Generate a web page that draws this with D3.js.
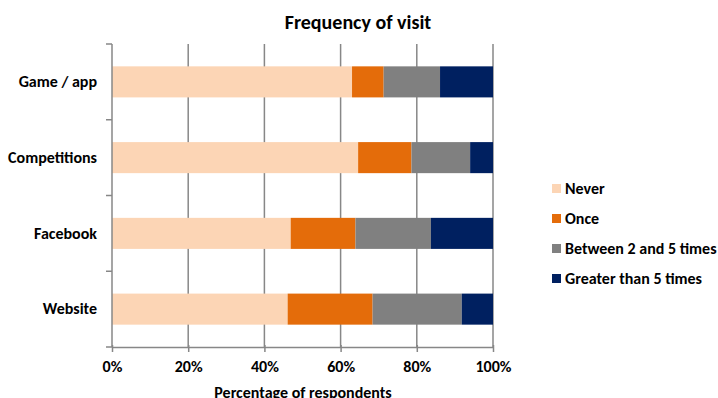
<!DOCTYPE html>
<html>
<head>
<meta charset="utf-8">
<script src="https://cdn.jsdelivr.net/npm/d3@7"></script>
<style>
  body { margin: 0; background: #fff; }
  text { font-family: Carlito, "Open Sans", "Noto Sans", sans-serif; font-weight: bold; fill: #000; }
</style>
</head>
<body>
<div id="D3"></div>
<script>
// categories, top to bottom
var categories = ["Game / app", "Competitions", "Facebook", "Website"];
var seriesNames = ["Never", "Once", "Between 2 and 5 times", "Greater than 5 times"];
var seriesColors = ["#FCD5B5", "#E46C0A", "#808080", "#002060"];
// percentage values per series, same order as categories
var never = [63.0, 64.6, 46.9, 46.1];
var once = [8.3, 14.0, 17.0, 22.3];
var between2and5 = [14.8, 15.4, 19.8, 23.4];
var greaterThan5 = [13.9, 6.0, 16.3, 8.2];
var tickValues = [0, 20, 40, 60, 80, 100];

function barChart() {
var w = 718, h = 398;
var plotLeft = 112, plotRight = 493, plotTop = 44, plotBottom = 347;
var labelSize = "16px";

var SVG = d3.select("#D3").append("svg")
	.attr("width", w)
	.attr("height", h);

var x = d3.scaleLinear().domain([0, 100]).range([plotLeft, plotRight]);
var y = d3.scaleBand().domain(categories).range([plotTop, plotBottom]).paddingInner(0.59).paddingOuter(0.295);

// gridlines
SVG.selectAll("line.grid")
	.data(tickValues.slice(1))
	.enter()
	.append("line")
	.attr("x1", function (d) { return x(d); })
	.attr("x2", function (d) { return x(d); })
	.attr("y1", plotTop)
	.attr("y2", plotBottom)
	.attr("stroke", "#878787")
	.attr("stroke-width", 1.5);

// stacked rows
var table = categories.map(function (c, i) {
	return { cat: c, Never: never[i], Once: once[i], "Between 2 and 5 times": between2and5[i], "Greater than 5 times": greaterThan5[i] };
});
var stack = d3.stack().keys(seriesNames)(table);

SVG.selectAll("g.series")
	.data(stack)
	.enter()
	.append("g")
	.attr("fill", function (d, i) { return seriesColors[i]; })
	.selectAll("rect")
	.data(function (d) { return d; })
	.enter()
	.append("rect")
	.attr("x", function (d) { return x(d[0]); })
	.attr("y", function (d) { return y(d.data.cat); })
	.attr("width", function (d) { return x(d[1]) - x(d[0]); })
	.attr("height", y.bandwidth());

// x axis
var xAxis = SVG.append("g")
	.attr("transform", "translate(0," + plotBottom + ")")
	.call(d3.axisBottom(x).tickValues(tickValues).tickFormat(function (d) { return d + "%"; }).tickSize(5).tickSizeOuter(0).tickPadding(9));
xAxis.select(".domain").attr("stroke", "#878787").attr("stroke-width", 1.5);
xAxis.selectAll(".tick line").attr("stroke", "#878787").attr("stroke-width", 1.5).attr("y1", -2);
xAxis.selectAll("text").style("font-size", labelSize).attr("fill", "#000");

// y axis
var yAxis = SVG.append("g")
	.attr("transform", "translate(" + plotLeft + ",0)")
	.call(d3.axisLeft(y).tickSize(0).tickPadding(15));
yAxis.select(".domain").attr("stroke", "#878787").attr("stroke-width", 1.5)
	.attr("d", "M0," + plotTop + "V" + plotBottom);
yAxis.selectAll("text").style("font-size", labelSize).attr("fill", "#000");

// y axis ticks at band boundaries
SVG.selectAll("line.ytick")
	.data(categories.concat(["end"]))
	.enter()
	.append("line")
	.attr("x1", plotLeft - 6)
	.attr("x2", plotLeft)
	.attr("y1", function (d, i) { return plotTop + i * y.step(); })
	.attr("y2", function (d, i) { return plotTop + i * y.step(); })
	.attr("stroke", "#878787")
	.attr("stroke-width", 1.5);

// title
SVG.append("text")
	.attr("x", 358)
	.attr("y", 29)
	.attr("text-anchor", "middle")
	.style("font-size", "20px")
	.text("Frequency of visit");

// axis title
SVG.append("text")
	.attr("x", 303)
	.attr("y", 398)
	.attr("text-anchor", "middle")
	.style("font-size", labelSize)
	.text("Percentage of respondents");

// legend
var legend = SVG.selectAll("g.legend")
	.data(seriesNames)
	.enter()
	.append("g")
	.attr("transform", function (d, i) { return "translate(552," + (184 + i * 30) + ")"; });
legend.append("rect")
	.attr("width", 9)
	.attr("height", 9)
	.attr("fill", function (d, i) { return seriesColors[i]; });
legend.append("text")
	.attr("x", 13)
	.attr("y", 10)
	.style("font-size", labelSize)
	.text(function (d) { return d; });
}
barChart();
</script>
</body>
</html>
